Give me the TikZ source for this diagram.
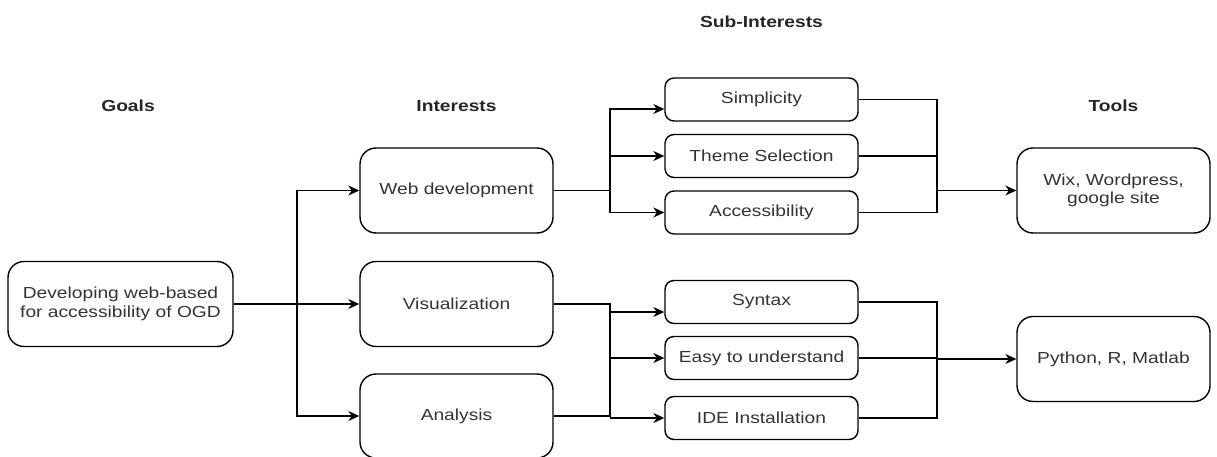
\documentclass[tikz,border=0pt]{standalone}
\usepackage{fontspec}
\setmainfont{Liberation Sans}[FakeStretch=1.2]
\usetikzlibrary{arrows.meta,calc}
\begin{document}
\begin{tikzpicture}[x=1pt,y=-1pt,
  every node/.style={font=\fontsize{16}{18.3}\selectfont},
  bigbox/.style={draw,line width=1.4pt,rounded corners=16pt,minimum width=225pt,minimum height=85pt,align=center,inner sep=0pt,text=black!80},
  midbox/.style={bigbox,minimum width=193pt},
  subbox/.style={draw,line width=1.4pt,rounded corners=9pt,minimum width=193pt,minimum height=43pt,align=center,inner sep=0pt,text=black!80},
  header/.style={font=\fontsize{16}{18.3}\selectfont\bfseries,text=black!85},
  wire/.style={line width=1.4pt},
  arr/.style={wire,-{Stealth[length=11pt,width=10pt,inset=3.5pt]}}]
\useasboundingbox (0,0) rectangle (1217,457);
% headers
\node[header] (hgoals) at (128,106) {Goals};
\node[header] (hint) at (456.5,106) {Interests};
\node[header] (hsub) at (761.5,22) {Sub-Interests};
\node[header] (htools) at (1113.5,106) {Tools};
% goal
\node[bigbox] (goal) at (120.5,304) {Developing web-based\\for accessibility of OGD};
% interests
\node[midbox] (web) at (456.5,190.5) {Web development};
\node[midbox] (vis) at (456.5,304) {Visualization};
\node[midbox,minimum height=84pt] (ana) at (456.5,416) {Analysis};
% sub-interests
\node[subbox] (simp) at (761.5,99.5) {Simplicity};
\node[subbox] (theme) at (761.5,156) {Theme Selection};
\node[subbox] (acc) at (761.5,212.5) {Accessibility};
\node[subbox] (syn) at (761.5,302) {Syntax};
\node[subbox] (easy) at (761.5,358) {Easy to understand};
\node[subbox] (ide) at (761.5,418) {IDE Installation};
% tools
\node[midbox] (t1) at (1113.5,190.5) {Wix, Wordpress,\\google site};
\node[midbox] (t2) at (1113.5,359) {Python, R, Matlab};
% branch coordinates
\coordinate (b1) at (297,304);
\coordinate (b2) at (610,190.5);
\coordinate (b3) at (610,358);
\coordinate (m1) at (937,190.5);
\coordinate (m2) at (937,359);
% goal -> interests
\draw[arr] (goal.east) -- (vis.west);
\draw[arr] (b1) |- (web.west);
\draw[arr] (b1) |- (ana.west);
% web -> subs
\draw[wire] (web.east) -- (b2);
\draw[arr] (b2) |- ([yshift=-9.5pt]simp.west);
\draw[arr] (b2) |- (acc.west);
\draw[arr] (b2 |- theme.west) -- (theme.west);
% subs -> t1
\draw[wire] (simp.east) -| (m1);
\draw[wire] (acc.east) -| (m1);
\draw[wire] (theme.east) -- (theme.east -| m1);
\draw[arr] (m1) -- (t1.west);
% vis/ana -> subs
\draw[wire] (vis.east) -| (b3);
\draw[wire] (ana.east) -| (b3);
\draw[arr] (b3) -- (easy.west);
\draw[arr] ([yshift=-10pt]syn.west -| b3) -- ([yshift=-10pt]syn.west);
\draw[arr] (ide.west -| b3) -- (ide.west);
% subs -> t2
\draw[wire] (syn.east) -| (m2);
\draw[wire] (ide.east) -| (m2);
\draw[wire] (easy.east) -- (easy.east -| m2);
\draw[arr] (m2) -- (t2.west);
\end{tikzpicture}
\end{document}
